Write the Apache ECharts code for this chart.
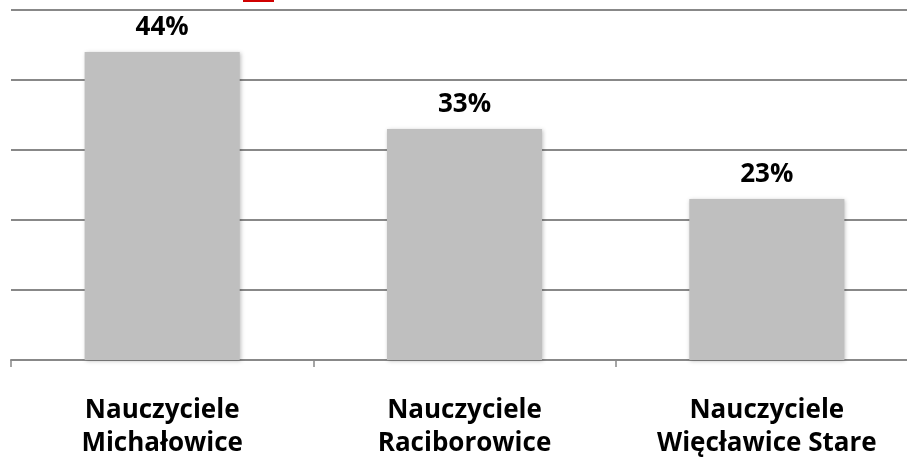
<!DOCTYPE html>
<html>
<head>
<meta charset="utf-8">
<script src="https://cdn.jsdelivr.net/npm/echarts@6/dist/echarts.min.js"></script>
<style>html,body{margin:0;padding:0;background:#fff}#c{width:907px;height:457px}</style>
</head>
<body>
<div id="c"></div>
<script>
const categories = ["Nauczyciele\nMichałowice", "Nauczyciele\nRaciborowice", "Nauczyciele\nWięcławice Stare"];
const values = [44, 33, 23];
const yTicks = [0, 10, 20, 30, 40, 50];

const chart = echarts.init(document.getElementById('c'));
chart.setOption({
  animation: false,
  grid: { left: 11, width: 907, top: 10, height: 350, containLabel: false, outerBoundsMode: 'none' },
  graphic: [{
    type: 'rect', shape: { x: 244, y: -10, width: 29, height: 11 },
    style: { fill: '#fff', stroke: '#d00000', lineWidth: 2 }, z: 100
  }],
  xAxis: {
    type: 'category', data: categories,
    axisLine: { lineStyle: { color: '#888', width: 2 } },
    axisTick: { show: true, length: 7, lineStyle: { color: '#888', width: 1.5 } },
    axisLabel: {
      color: '#000', fontFamily: 'Open Sans', fontWeight: 'bold', fontSize: 26,
      lineHeight: 33, margin: 34, interval: 0
    }
  },
  yAxis: {
    type: 'value', min: yTicks[0], max: yTicks[yTicks.length - 1], interval: 10,
    axisLine: { show: false }, axisTick: { show: false }, axisLabel: { show: false },
    splitLine: { lineStyle: { color: '#888', width: 2 } }
  },
  series: [{
    type: 'bar', data: values, barWidth: '51.3%',
    itemStyle: { color: '#bfbfbf', shadowColor: 'rgba(0,0,0,0.25)', shadowBlur: 4, shadowOffsetX: 1, shadowOffsetY: 1 },
    label: {
      show: true, position: 'top', distance: 11, formatter: '{c}%',
      color: '#000', fontFamily: 'Open Sans', fontWeight: 'bold', fontSize: 26
    }
  }]
});
</script>
</body>
</html>
